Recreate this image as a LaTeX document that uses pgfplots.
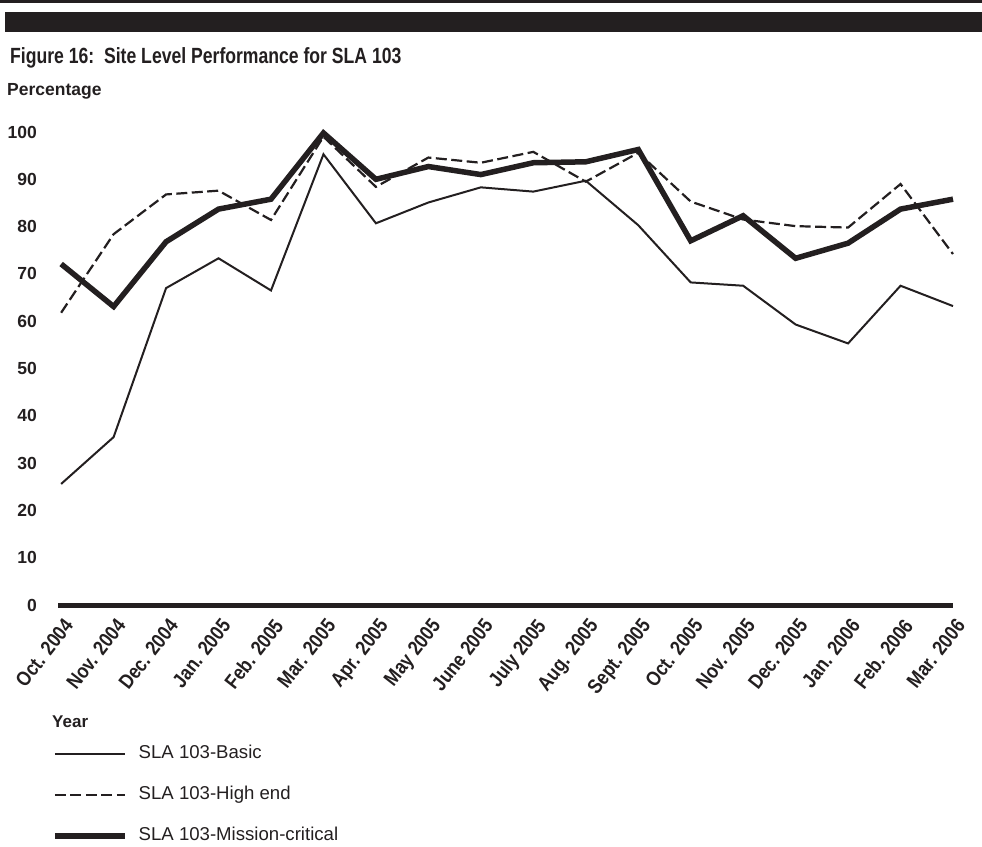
\documentclass[border=0pt]{standalone}
\usepackage{fontspec}
\setmainfont{Liberation Sans}
\usepackage{graphicx}
\usepackage{pgfplots}
\pgfplotsset{compat=1.18}
\definecolor{ink}{RGB}{35,31,32}

\begin{document}
\begin{tikzpicture}[x=1pt,y=1pt]
\useasboundingbox (0,0) rectangle (982,-846);
% header rules
\fill[ink] (0,0) rectangle (982,-2.5);
\fill[ink] (5,-11.5) rectangle (982,-31.5);
\node[anchor=base west, inner sep=0pt, text=ink] at (10,-63)
  {\fontsize{22}{26}\selectfont\bfseries\scalebox{0.8}[1]{Figure 16:\ \ Site Level Performance for SLA 103}};
\node[anchor=base west, inner sep=0pt, text=ink] at (7,-95)
  {\fontsize{17.5}{20}\selectfont\bfseries Percentage};
\node[anchor=base west, inner sep=0pt, text=ink] at (52,-727)
  {\fontsize{17}{20}\selectfont\bfseries Year};

\begin{axis}[
  at={(58pt,-605pt)}, anchor=south west,
  scale only axis, width=895pt, height=473pt,
  xmin=-0.06, xmax=17, ymin=0, ymax=100,
  clip=false,
  axis x line*=bottom, axis y line*=left,
  x axis line style={line width=5pt, ink, -},
  y axis line style={draw=none},
  major tick length=0pt,
  xtick={0,...,17},
  xticklabels={Oct. 2004, Nov. 2004, Dec. 2004, Jan. 2005, Feb. 2005, Mar. 2005,
    Apr. 2005, May 2005, June 2005, July 2005, Aug. 2005, Sept. 2005,
    Oct. 2005, Nov. 2005, Dec. 2005, Jan. 2006, Feb. 2006, Mar. 2006},
  ytick={0,10,...,100},
  yticklabels={0,10,20,30,40,50,60,70,80,90,100},
  xticklabel style={xshift=1.7pt, yshift=-12pt, rotate=52, xscale=0.85, anchor=north east,
    inner sep=0pt, text=ink, font=\fontsize{20.5}{24}\selectfont\bfseries},
  yticklabel style={anchor=east, inner sep=0pt, xshift=-21pt, text=ink,
    font=\fontsize{17.5}{20}\selectfont\bfseries},
  legend style={at={(-0.0067,-0.297)}, anchor=north west, draw=none, fill=none,
    inner sep=0pt, row sep=24pt, column sep=11pt,
    nodes={inner sep=0pt, text height=13pt, text depth=4pt},
    font=\fontsize{18.6}{22}\selectfont, text=ink},
  legend cell align=left,
  legend image code/.code={\draw[#1] (0pt,0pt) -- (70pt,0pt);},
]
\addplot[ink, line width=2pt] coordinates {
  (0,25.6) (1,35.5) (2,67.0) (3,73.3) (4,66.5) (5,95.3) (6,80.7) (7,85.1) (8,88.3)
  (9,87.4) (10,89.7) (11,80.3) (12,68.2) (13,67.5) (14,59.3) (15,55.3) (16,67.5) (17,63.2)};
\addlegendentry{SLA 103-Basic}
\addplot[ink, line width=2.2pt, dash pattern=on 11pt off 4.5pt] coordinates {
  (0,61.8) (1,78.4) (2,86.8) (3,87.6) (4,81.4) (5,99.0) (6,88.4) (7,94.6) (8,93.5)
  (9,95.8) (10,89.5) (11,95.6) (12,85.3) (13,81.5) (14,80.1) (15,79.8) (16,89.0) (17,74.2)};
\addlegendentry{SLA 103-High end}
\addplot[ink, line width=5.5pt] coordinates {
  (0,72.1) (1,63.1) (2,76.8) (3,83.7) (4,85.8) (5,99.8) (6,90.0) (7,92.7) (8,91.0)
  (9,93.5) (10,93.7) (11,96.3) (12,77.0) (13,82.3) (14,73.3) (15,76.5) (16,83.7) (17,85.8)};
\addlegendentry{SLA 103-Mission-critical}
\end{axis}
\end{tikzpicture}
\end{document}
